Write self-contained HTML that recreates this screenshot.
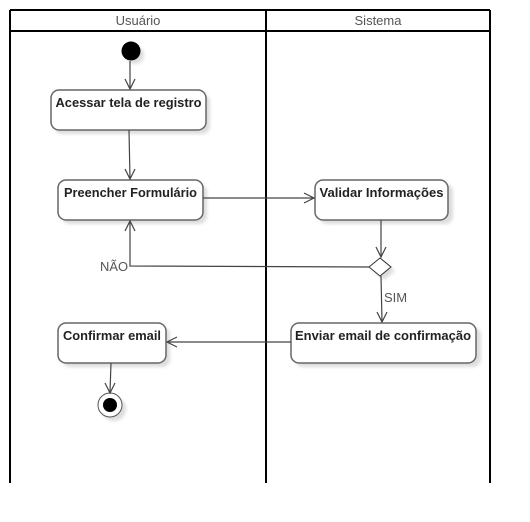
<!DOCTYPE html>
<html><head><meta charset="utf-8"><style>
html,body{margin:0;padding:0;background:#fff;}
svg{display:block;}
</style></head><body>
<svg width="530" height="522" viewBox="0 0 530 522" xmlns="http://www.w3.org/2000/svg" font-family="Liberation Sans, Arial, sans-serif">
<defs>
<filter id="sh" x="-20%" y="-20%" width="140%" height="160%"><feGaussianBlur stdDeviation="1.5"/></filter>
</defs>
<g stroke="#000" stroke-width="2" fill="none">
<line x1="10" y1="10" x2="490" y2="10"/>
<line x1="10" y1="31" x2="490" y2="31"/>
<line x1="10" y1="10" x2="10" y2="483"/>
<line x1="266" y1="10" x2="266" y2="483"/>
<line x1="490" y1="10" x2="490" y2="483"/>
</g>
<g font-size="13" fill="#555" text-anchor="middle">
<text x="138" y="25">Usuário</text>
<text x="378" y="25">Sistema</text>
</g>
<g fill="#ddd" filter="url(#sh)">
<circle cx="135" cy="55" r="9"/>
<rect x="54" y="94" width="156" height="40" rx="8"/>
<rect x="62" y="184" width="145" height="40" rx="8"/>
<rect x="319" y="184" width="134" height="40" rx="8"/>
<rect x="62" y="327" width="108" height="40" rx="8"/>
<rect x="295" y="327" width="186" height="40" rx="8"/>
<circle cx="114" cy="409" r="12"/>
<polygon points="384,262 395,271 384,280 373,271"/>
</g>
<circle cx="131" cy="51" r="9.5" fill="#000"/>
<g fill="#fff" stroke="#666" stroke-width="1.5">
<rect x="51" y="90" width="155" height="40" rx="8"/>
<rect x="58" y="180" width="145" height="40" rx="8"/>
<rect x="315" y="180" width="133" height="40" rx="8"/>
<rect x="58" y="323" width="108" height="40" rx="8"/>
<rect x="291" y="323" width="185" height="40" rx="8"/>
</g>
<g font-size="13" font-weight="bold" fill="#222" text-anchor="middle">
<text x="128.5" y="107" textLength="146" lengthAdjust="spacingAndGlyphs">Acessar tela de registro</text>
<text x="130.5" y="197" textLength="133" lengthAdjust="spacingAndGlyphs">Preencher Formulário</text>
<text x="381.5" y="197" textLength="124" lengthAdjust="spacingAndGlyphs">Validar Informações</text>
<text x="112" y="340" textLength="98" lengthAdjust="spacingAndGlyphs">Confirmar email</text>
<text x="383" y="340" textLength="176" lengthAdjust="spacingAndGlyphs">Enviar email de confirmação</text>
</g>
<polygon points="380,258 391,267 380,276 369,267" fill="#fff" stroke="#333" stroke-width="1"/>
<circle cx="110" cy="405" r="12" fill="#fff" stroke="#555" stroke-width="1"/>
<circle cx="110" cy="405" r="7" fill="#000"/>
<g stroke="#444" stroke-width="1.2" fill="none">
<line x1="130" y1="61" x2="130" y2="89"/>
<polyline points="125,79 130,89 135,79"/>
<line x1="129" y1="130" x2="130" y2="179"/>
<polyline points="125,169 130,179 135,169"/>
<line x1="203" y1="198" x2="314" y2="198"/>
<polyline points="304,193 314,198 304,203"/>
<line x1="381" y1="220" x2="381" y2="257"/>
<polyline points="376,247 381,257 386,247"/>
<polyline points="369,267 130,266 130,221"/>
<polyline points="125,231 130,221 135,231"/>
<line x1="381" y1="276" x2="382" y2="322"/>
<polyline points="377,312 382,322 387,312"/>
<line x1="291" y1="342" x2="167" y2="342"/>
<polyline points="177,337 167,342 177,347"/>
<line x1="111" y1="363" x2="110" y2="392"/>
<polyline points="105,383 110,393 115,383"/>
</g>
<g font-size="13" fill="#555">
<text x="100" y="271" textLength="28" lengthAdjust="spacingAndGlyphs">NÃO</text>
<text x="384" y="302">SIM</text>
</g>
</svg>
</body></html>
